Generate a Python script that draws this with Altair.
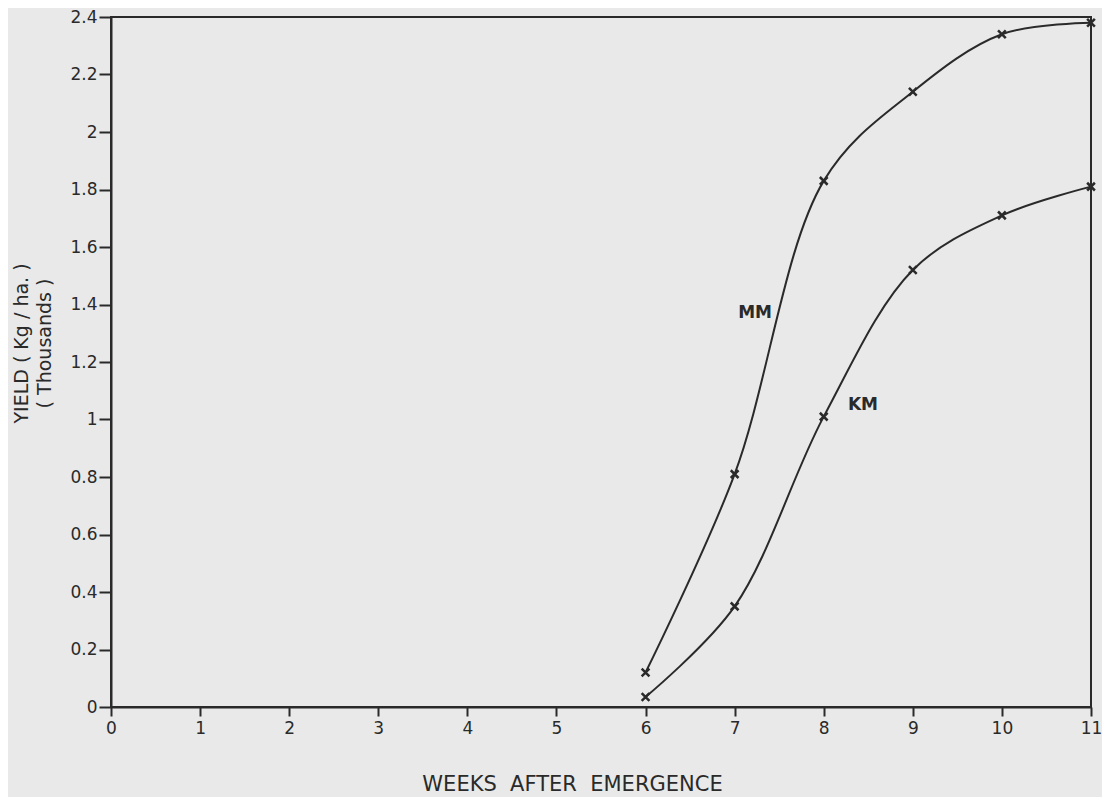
import altair as alt
import pandas as pd

weeks = [6, 7, 8, 9, 10, 11]
mm_yield = [0.12, 0.81, 1.83, 2.14, 2.34, 2.38]
km_yield = [0.035, 0.35, 1.01, 1.52, 1.71, 1.81]

label_text = ["MM", "KM"]
label_x = [7.23, 8.44]
label_y = [1.37, 1.05]

x_ticks = list(range(0, 12))
y_ticks = [0, 0.2, 0.4, 0.6, 0.8, 1.0, 1.2, 1.4, 1.6, 1.8, 2.0, 2.2, 2.4]

rows = []
for w, v in zip(weeks, mm_yield):
    rows.append({"week": w, "yield": v, "series": "MM"})
for w, v in zip(weeks, km_yield):
    rows.append({"week": w, "yield": v, "series": "KM"})
df = pd.DataFrame(rows)
labels = pd.DataFrame({"text": label_text, "week": label_x, "yield": label_y})

ink = "#2a2a2a"
font = "DejaVu Sans"

xscale = alt.Scale(domain=[0, 11], nice=False, zero=False)
yscale = alt.Scale(domain=[0, 2.4], nice=False)

xaxis = alt.Axis(values=x_ticks, title="WEEKS\u00a0 AFTER\u00a0 EMERGENCE", grid=False, format="d",
                 labelFontSize=17, labelColor=ink, labelFont=font, labelPadding=4,
                 tickSize=9, tickColor=ink, tickWidth=2, domainColor=ink, domainWidth=2,
                 titleFont=font, titleFontSize=21, titleFontWeight="normal", titleColor=ink,
                 titlePadding=37, titleX=461, labelFlush=False)
yaxis = alt.Axis(values=y_ticks, title=["YIELD ( Kg / ha. )", "( Thousands )"], grid=False,
                 labelFontSize=17, labelColor=ink, labelFont=font, labelPadding=2,
                 tickSize=12, tickColor=ink, tickWidth=2, domainColor=ink, domainWidth=2,
                 titleFont=font, titleFontSize=19, titleFontWeight="normal", titleColor=ink,
                 titlePadding=15, titleLineHeight=23, titleY=326, labelFlush=False,
                 labelExpr="replace(format(datum.value, '.1f'), /\\.0$/, '')")

base = alt.Chart(df)

lines = base.mark_line(interpolate="catmull-rom", color=ink, strokeWidth=2).encode(
    x=alt.X("week:Q", scale=xscale, axis=xaxis),
    y=alt.Y("yield:Q", scale=yscale, axis=yaxis),
    detail="series:N",
)

markers = base.mark_point(shape="M-1,-1L1,1M1,-1L-1,1", size=60, filled=False,
                          color=ink, strokeWidth=2.5, opacity=1).encode(
    x=alt.X("week:Q", scale=xscale),
    y=alt.Y("yield:Q", scale=yscale),
)

text = alt.Chart(labels).mark_text(font=font, fontSize=17, fontWeight="bold",
                                   color=ink).encode(
    x=alt.X("week:Q", scale=xscale),
    y=alt.Y("yield:Q", scale=yscale),
    text="text:N",
)

chart = (lines + markers + text).properties(
    width=980, height=690,
    autosize=alt.AutoSizeParams(type="none"),
    padding={"left": 103, "top": 9, "right": 11, "bottom": 90},
    background="#e9e9e9",
).configure_view(stroke=ink, strokeWidth=2)

chart.save("out.html", embed_options={"renderer": "svg", "actions": False})
